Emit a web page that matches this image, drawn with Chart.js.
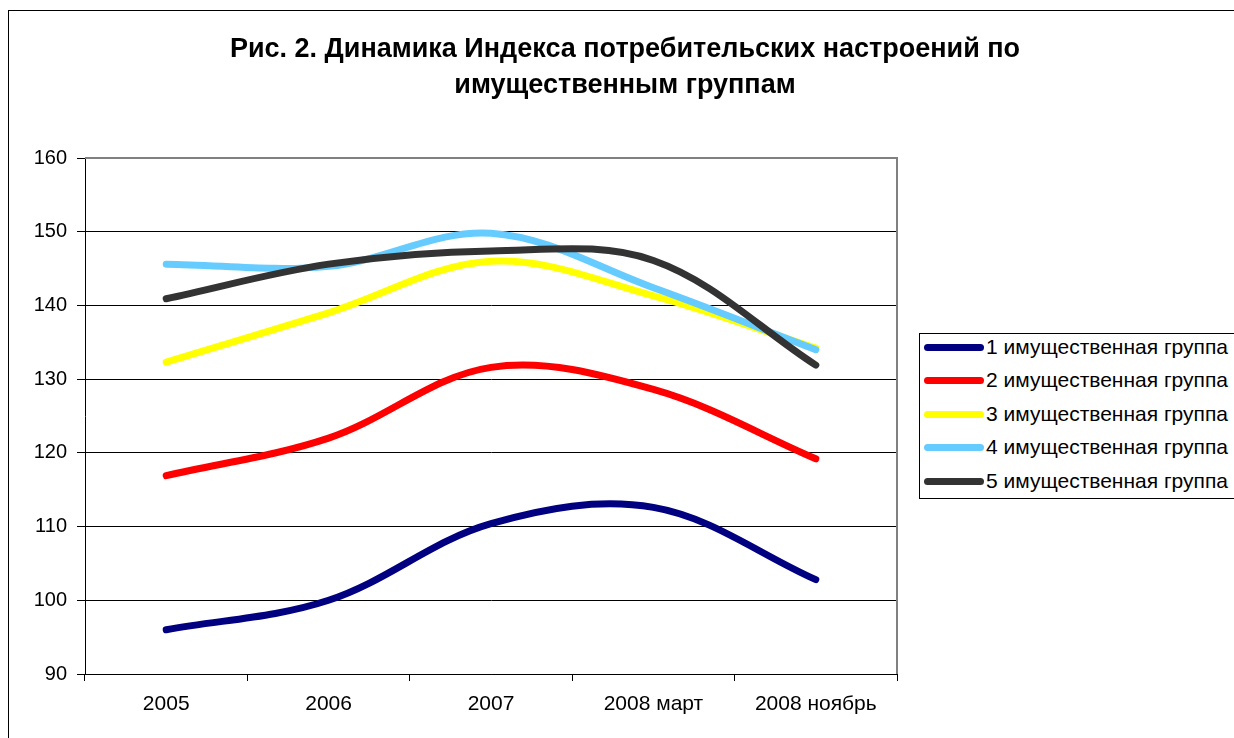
<!DOCTYPE html>
<html>
<head>
<meta charset="utf-8">
<script src="https://cdn.jsdelivr.net/npm/chart.js@4"></script>
<style>
  body { margin: 0; background: #fff; }
  #wrap { position: relative; width: 1234px; height: 738px; font-family: "Liberation Sans", Arial, sans-serif; }
  #frame { position: absolute; left: 8px; top: 10px; right: -2px; bottom: -2px; border-left: 1px solid #000; border-top: 1px solid #000; }
  #title { position: absolute; left: 8px; width: 1234px; top: 30px; text-align: center; font-weight: bold; font-size: 27px; line-height: 36px; color: #000; }
  #legend { position: absolute; left: 919px; top: 333px; width: 330px; height: 164px; border: 1px solid #000; background: #fff; }
  .item { position: absolute; left: 4px; height: 33px; font-size: 21px; color: #000; white-space: nowrap; }
  .item span.sw { position: absolute; left: 0; top: 10px; width: 60px; height: 7px; border-radius: 4px; }
  .item span.tx { position: absolute; left: 62px; top: 1px; line-height: 24px; }
</style>
</head>
<body>
<div id="wrap">
  <div id="frame"></div>
  <canvas id="lineCanvas" width="1234" height="738" style="position:absolute;left:0;top:0"></canvas>
  <div id="title">Рис. 2. Динамика Индекса потребительских настроений по<br>имущественным группам</div>
  <div id="legend"></div>
</div>
<script>
const labels = ["2005", "2006", "2007", "2008 март", "2008 ноябрь"];
const seriesNames = ["1 имущественная группа", "2 имущественная группа", "3 имущественная группа", "4 имущественная группа", "5 имущественная группа"];
const group1 = [96.0, 100.0, 110.4, 112.6, 102.8];
const group2 = [116.9, 122.0, 131.6, 128.6, 119.2];
const group3 = [132.3, 139.0, 146.0, 141.3, 134.2];
const group4 = [145.6, 145.3, 149.8, 142.4, 134.0];
const group5 = [140.9, 145.6, 147.4, 146.1, 131.9];
const colors = ["#000080", "#ff0000", "#ffff00", "#66ccff", "#333333"];
const yTicks = [90, 100, 110, 120, 130, 140, 150, 160];

const allData = [group1, group2, group3, group4, group5];

// legend in html, built from the arrays
const legendBox = document.getElementById("legend");
seriesNames.forEach((name, i) => {
    const row = document.createElement("div");
    row.className = "item";
    row.style.top = (i * 33.4) + "px";
    row.innerHTML = '<span class="sw" style="background:' + colors[i] + '"></span><span class="tx">' + name + '</span>';
    legendBox.appendChild(row);
});

// gray border on top and right of plot
const plotBorder = {
    id: "plotBorder",
    afterDraw(chart) {
        const a = chart.chartArea;
        const ctx = chart.ctx;
        ctx.save();
        ctx.strokeStyle = "#808080";
        ctx.lineWidth = 2;
        ctx.beginPath();
        ctx.moveTo(a.left, a.top);
        ctx.lineTo(a.right, a.top);
        ctx.lineTo(a.right, a.bottom);
        ctx.stroke();
        ctx.restore();
    }
};

const lineCanvas = document.getElementById("lineCanvas");

const lineChart = new Chart(lineCanvas, {
    type: "line",
    data: {
        labels: labels,
        datasets: allData.map((d, i) => ({
            label: seriesNames[i],
            data: d,
            borderColor: colors[i],
            backgroundColor: colors[i],
            borderWidth: 7,
            borderCapStyle: "round",
            borderJoinStyle: "round",
            pointRadius: 0,
            tension: 0.35,
            order: 4 - i
        }))
    },
    options: {
        responsive: false,
        animation: false,
        layout: {
            padding: { left: 0, right: 337, top: 158, bottom: 0 }
        },
        plugins: {
            legend: { display: false },
            title: { display: false },
            tooltip: { enabled: false }
        },
        scales: {
            y: {
                min: 90,
                max: 160,
                afterBuildTicks: (scale) => { scale.ticks = yTicks.map(v => ({ value: v })); },
                afterFit: (scale) => { scale.width = 85; },
                ticks: {
                    color: "#000",
                    padding: 10,
                    font: { family: "Liberation Sans", size: 20 }
                },
                grid: {
                    color: "#000",
                    lineWidth: 1,
                    tickLength: 8
                },
                border: { color: "#000", width: 1 }
            },
            x: {
                offset: true,
                afterFit: (scale) => { scale.height = 64; },
                ticks: {
                    color: "#000",
                    padding: 11,
                    maxRotation: 0,
                    font: { family: "Liberation Sans", size: 21 }
                },
                grid: {
                    offset: true,
                    drawOnChartArea: false,
                    color: "#000",
                    tickLength: 7
                },
                border: { color: "#000", width: 1 }
            }
        }
    },
    plugins: [plotBorder]
});
</script>
</body>
</html>
